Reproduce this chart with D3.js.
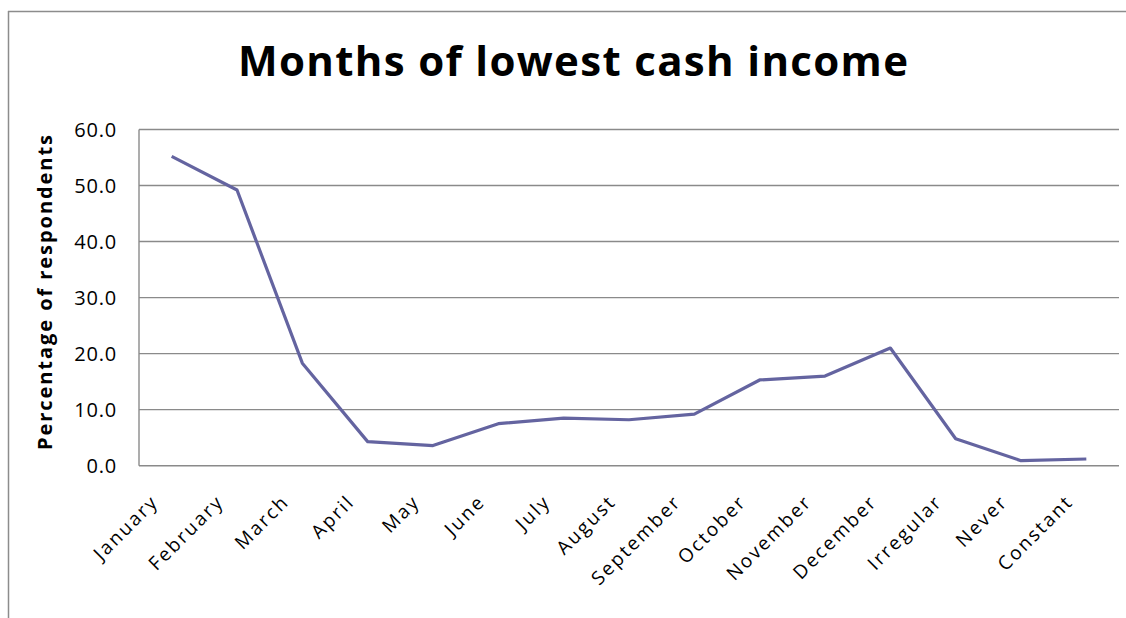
<!DOCTYPE html>
<html><head><meta charset="utf-8">
<script src="https://cdn.jsdelivr.net/npm/d3@7"></script>
<style>
html,body{margin:0;padding:0;background:#fff;}
svg{display:block;font-family:"Open Sans",Calibri,sans-serif;}
</style></head>
<body>
<svg id="chart" width="1126" height="618"></svg>
<script>
const categories = ["January","February","March","April","May","June","July","August","September","October","November","December","Irregular","Never","Constant"];
const values = [55.2,49.2,18.3,4.3,3.6,7.5,8.5,8.2,9.2,15.3,16.0,21.0,4.8,0.9,1.2];
const yTicks = [0,10,20,30,40,50,60];
const title = "Months of lowest cash income";
const yLabel = "Percentage of respondents";

const svg = d3.select("#chart");
const m = {left:139, right:1119, top:129.5, bottom:465.7};

// outer chart border (top & left visible)
svg.append("line").attr("x1",8).attr("x2",1126).attr("y1",11.5).attr("y2",11.5)
  .attr("stroke","#8c8c8c").attr("stroke-width",1.5);
svg.append("line").attr("x1",8.5).attr("x2",8.5).attr("y1",11).attr("y2",618)
  .attr("stroke","#8c8c8c").attr("stroke-width",1.5);

const x = d3.scaleBand().domain(categories).range([m.left,m.right]);
const y = d3.scaleLinear().domain([0,60]).range([m.bottom,m.top]);

// gridlines
svg.append("g").selectAll("line").data(yTicks).join("line")
  .attr("x1",m.left).attr("x2",m.right)
  .attr("y1",d=>y(d)).attr("y2",d=>y(d))
  .attr("stroke","#8a8a8a").attr("stroke-width",1.4);
// left axis line
svg.append("line").attr("x1",m.left).attr("x2",m.left).attr("y1",m.top).attr("y2",m.bottom)
  .attr("stroke","#8a8a8a").attr("stroke-width",1.4);

// y tick labels
svg.append("g").selectAll("text").data(yTicks).join("text")
  .attr("x",117).attr("y",d=>y(d)).attr("dy","0.36em")
  .attr("text-anchor","end").attr("font-size",20).attr("letter-spacing",0.8).attr("fill","#000")
  .text(d=>d3.format(".1f")(d));

// x labels
svg.append("g").selectAll("text").data(categories).join("text")
  .attr("transform",d=>`translate(${x(d)+x.bandwidth()/2-12},503) rotate(-45)`)
  .attr("text-anchor","end").attr("font-size",19).attr("letter-spacing",2.2).attr("fill","#000")
  .text(d=>d);

// line
const line = d3.line().x((d,i)=>x(categories[i])+x.bandwidth()/2).y(d=>y(d));
svg.append("path").datum(values).attr("d",line)
  .attr("fill","none").attr("stroke","#6464a0").attr("stroke-width",3.2).attr("stroke-linejoin","round");

// title
svg.append("text").attr("x",573).attr("y",76).attr("text-anchor","middle")
  .attr("font-size",42).attr("font-weight","bold").attr("fill","#000")
  .attr("textLength",670).attr("lengthAdjust","spacing")
  .text(title);

// y axis label
svg.append("text").attr("transform","translate(52,292.5) rotate(-90)")
  .attr("text-anchor","middle").attr("font-size",20).attr("font-weight","bold").attr("fill","#000")
  .attr("textLength",315).attr("lengthAdjust","spacing")
  .text(yLabel);
</script>
</body></html>
